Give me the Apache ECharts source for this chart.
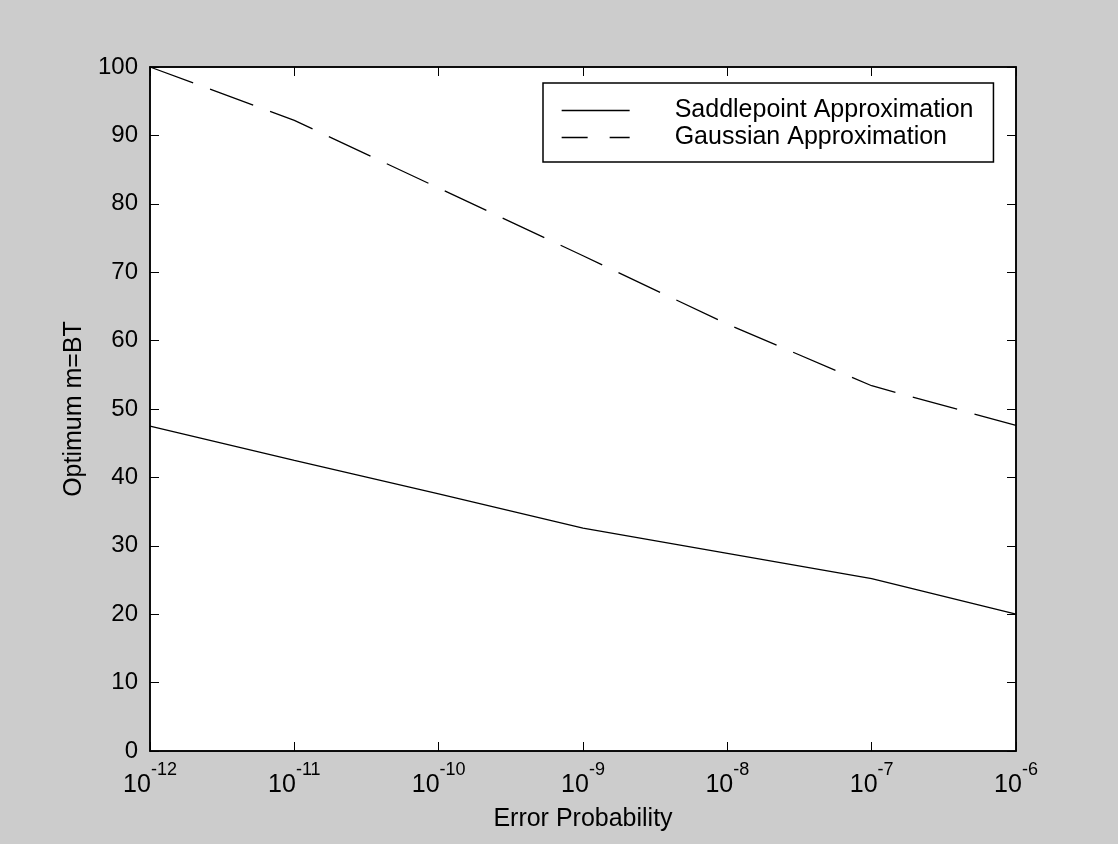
<!DOCTYPE html>
<html>
<head>
<meta charset="utf-8">
<script src="https://cdn.jsdelivr.net/npm/echarts@6/dist/echarts.min.js"></script>
<style>
html,body{margin:0;padding:0;background:#cccccc;}
#chart{width:1118px;height:844px;}
</style>
</head>
<body>
<div id="chart"></div>
<script>
// ---- data ----
const errorProb = [1e-12, 1e-11, 1e-10, 1e-9, 1e-8, 1e-7, 1e-6];
const saddlepoint = [47.5, 42.5, 37.6, 32.6, 28.9, 25.2, 20.0];
const gaussian = [100.0, 92.2, 82.3, 72.4, 62.4, 53.4, 47.6];
const seriesNames = ['Saddlepoint Approximation', 'Gaussian Approximation'];
const xTickExponents = ['-12', '-11', '-10', '-9', '-8', '-7', '-6'];
const xTitle = 'Error Probability';
const yTitle = 'Optimum m=BT';

const FONT = '"Liberation Sans", Arial, Helvetica, sans-serif';
const chart = echarts.init(document.getElementById('chart'));

function pairs(xs, ys) { return xs.map((x, i) => [x, ys[i]]); }
function xLabel(v) {
  const idx = errorProb.findIndex(p => Math.abs(Math.log10(p) - Math.log10(v)) < 1e-6);
  const e = idx >= 0 ? xTickExponents[idx] : String(Math.round(Math.log10(v)));
  return '{b|10}{s|' + e + '}';
}

const tickStyle = {show: true, inside: true, length: 9, lineStyle: {color: '#000', width: 1}};
const axisLine = {show: true, onZero: false, lineStyle: {color: '#000', width: 1.5}};

chart.setOption({
  backgroundColor: '#cccccc',
  animation: false,
  textStyle: {fontFamily: FONT},
  grid: {left: 150, right: 102, top: 67, bottom: 93, show: true, backgroundColor: '#ffffff', borderColor: '#000', borderWidth: 1.5, containLabel: false},
  legend: {
    orient: 'vertical',
    left: 543, top: 83,
    padding: [15, 20, 12, 18],
    backgroundColor: '#ffffff',
    borderColor: '#000', borderWidth: 1.5, borderRadius: 0,
    itemWidth: 68, itemHeight: 14, itemGap: 2,
    itemStyle: {opacity: 0},
    textStyle: {fontFamily: FONT, fontSize: 25, color: '#000', lineHeight: 25, padding: [0, 0, 0, 40]},
    data: [
      {name: seriesNames[0], lineStyle: {color: '#000', width: 1.3, type: 'solid'}},
      {name: seriesNames[1], lineStyle: {color: '#000', width: 1.3, type: [26, 22]}}
    ]
  },
  xAxis: [{
    type: 'log', logBase: 10, min: 1e-12, max: 1e-6,
    position: 'bottom',
    name: xTitle, nameLocation: 'middle', nameGap: 56,
    nameTextStyle: {fontFamily: FONT, fontSize: 25, color: '#000'},
    axisLine: axisLine, axisTick: tickStyle, minorTick: {show: false},
    splitLine: {show: false},
    axisLabel: {
      margin: 10, color: '#000', formatter: xLabel,
      rich: {
        b: {fontFamily: FONT, fontSize: 25, lineHeight: 48, color: '#000'},
        s: {fontFamily: FONT, fontSize: 18, lineHeight: 18, verticalAlign: 'top', color: '#000'}
      }
    }
  }, {
    type: 'log', logBase: 10, min: 1e-12, max: 1e-6,
    position: 'top',
    axisLine: axisLine, axisTick: tickStyle, axisLabel: {show: false},
    splitLine: {show: false}
  }],
  yAxis: [{
    type: 'value', min: 0, max: 100, interval: 10,
    position: 'left',
    name: yTitle, nameLocation: 'middle', nameGap: 62,
    nameTextStyle: {fontFamily: FONT, fontSize: 25, color: '#000'},
    axisLine: axisLine, axisTick: tickStyle, splitLine: {show: false},
    axisLabel: {margin: 12, fontFamily: FONT, fontSize: 24, color: '#000'}
  }, {
    type: 'value', min: 0, max: 100, interval: 10,
    position: 'right',
    axisLine: axisLine, axisTick: tickStyle, splitLine: {show: false},
    axisLabel: {show: false}
  }],
  series: [{
    name: seriesNames[0], type: 'line', xAxisIndex: 0, yAxisIndex: 0,
    data: pairs(errorProb, saddlepoint),
    symbol: 'none', showSymbol: false,
    lineStyle: {color: '#000', width: 1.3, type: 'solid'},
    itemStyle: {color: '#000'}
  }, {
    name: seriesNames[1], type: 'line', xAxisIndex: 0, yAxisIndex: 0,
    data: pairs(errorProb, gaussian),
    symbol: 'none', showSymbol: false,
    lineStyle: {color: '#000', width: 1.3, type: [46, 18]},
    itemStyle: {color: '#000'}
  }]
});
</script>
</body>
</html>
